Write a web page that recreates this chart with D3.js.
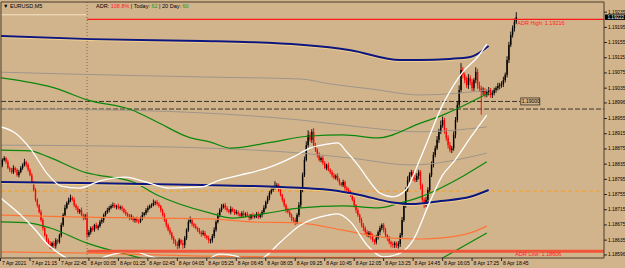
<!DOCTYPE html>
<html>
<head>
<meta charset="utf-8">
<script src="https://cdn.jsdelivr.net/npm/d3@7"></script>
<style>
  html, body { margin: 0; padding: 0; background: #d2b48c; }
  svg { display: block; font-family: "Liberation Sans", Arial, sans-serif; }
</style>
</head>
<body>
<svg id="chart" width="625" height="268"></svg>
<script>
// prices are in points above 1.18000 (e.g. 833 -> 1.18833), bars are M5 bar indexes

const firstOpen = 825;
const closePts = [
  833,846,851,841,825,820,814,825,820,806,814,825,833,841,833,820,
  806,788,767,741,727,709,688,667,648,635,625,620,
  627,620,635,630,
  648,675,701,720,733,741,746,741,
  727,720,709,714,701,693,699,
  648,
  656,667,662,675,667,672,
  683,688,701,709,714,720,725,
  727,722,725,720,722,
  717,709,704,699,693,696,688,691,685,683,693,
  701,706,714,720,725,727,733,735,730,
  725,714,701,688,675,662,654,641,633,625,620,635,627,
  622,641,662,683,688,677,
  672,667,662,656,651,654,646,641,635,
  635,646,662,683,701,714,722,727,
  720,714,709,717,712,706,709,704,699,706,701,704,699,693,701,696,699,704,696,701,709,
  720,735,746,759,767,772,778,780,
  767,754,741,727,714,709,701,693,688,683,
  701,727,767,806,846,885,
  912,899,920,885,
  872,859,846,851,838,825,833,820,814,806,799,804,793,785,780,788,772,767,762,754,
  741,727,714,701,688,675,667,656,648,654,
  646,635,630,641,656,667,675,662,648,641,630,625,622,627,620,625,
  648,688,727,767,793,806,814,799,
  793,804,814,780,741,
  727,741,767,
  806,833,859,877,899,920,938,951,
  925,904,885,872,877,
  912,951,991,1030,1083,
  1070,1056,1043,1062,1051,1035,
  1056,1078,1043,1035,1025,1030,
  1017,1025,1030,1017,1022,1030,1035,1041,
  1043,1046,1056,1070,1109,1149,1175,1193,1210,1222
];
const upWick = [
  6,4,5,3,6,4,5,7,3,4,6,5,4,8,3,5,4,6,3,5,
  4,3,6,5,4,3,5,7,4,6,5,3,4,6,5,8,4,6,9,5,
  6,4,5,3,7,4,5,8,6,4,5,3,6,4,5,7,4,3,6,5,
  4,7,5,3,6,4,5,3,6,4,5,7,3,4,6,5,4,8,3,5,
  6,4,5,9,4,6,5,3,4,6,5,4,7,3,5,4,6,5,3,8,
  5,4,6,9,5,4,6,3,5,4,7,5,3,6,4,5,7,4,6,5,
  8,4,6,5,3,7,4,5,6,4,3,5,7,4,6,5,3,6,4,5,
  6,4,5,7,4,6,5,8,6,12,5,4,6,3,5,4,6,5,4,3,
  6,5,8,6,7,9,10,12,8,7,10,6,5,7,4,6,5,3,6,4,
  5,6,4,7,5,3,6,4,5,6,4,5,7,3,5,4,6,5,4,6,
  5,4,6,3,8,5,6,4,5,6,3,5,4,6,5,4,7,6,8,9,
  7,10,8,6,5,9,7,6,5,4,6,8,7,6,9,8,7,10,8,12,
  9,6,5,7,8,6,9,8,10,12,18,8,6,9,10,7,8,6,12,8,
  9,6,7,5,6,8,5,7,6,5,8,6,7,9,6,10,8,9,7,8,
  13
];
const dnWick = [
  5,6,4,5,3,6,4,5,7,4,6,3,5,4,6,5,3,6,4,5,
  6,4,5,7,4,6,5,8,9,6,7,5,4,6,5,3,4,5,6,4,
  5,6,4,5,3,6,4,8,5,6,4,5,3,6,4,5,7,4,5,6,
  4,5,3,6,4,5,6,4,5,3,6,4,5,7,4,5,3,6,4,5,
  6,4,5,3,6,4,5,6,4,5,7,4,6,5,8,6,9,7,5,10,
  8,6,5,4,6,5,4,6,5,7,4,6,5,8,9,7,6,5,4,6,
  5,4,6,5,4,6,3,5,4,6,5,4,6,5,3,6,4,5,4,6,
  5,4,6,5,4,5,6,4,5,4,6,5,4,6,5,7,4,6,8,7,
  9,6,5,7,6,5,4,6,5,8,6,5,7,4,6,5,3,6,4,5,
  6,4,5,3,6,4,5,7,4,6,5,4,6,8,5,7,6,8,7,5,
  6,9,5,7,6,5,8,6,7,5,8,6,9,7,8,6,7,8,6,5,
  7,5,6,4,8,6,5,9,12,6,7,5,8,6,5,7,6,5,8,6,
  7,10,8,9,6,8,7,9,6,8,7,9,8,7,10,8,9,7,8,10,
  9,60,8,7,6,9,7,8,6,7,6,9,7,8,6,7,8,6,7,9,
  6
];

// indicator lines: [bar, price]
const navyTop = [[0,1172],[49,1164],[109,1159],[136,1156],[163,1149],[190,1135],[217,1109],[228,1109],[244,1112],[255,1117],[265,1146]];
const navyLow = [[0,788],[54,785],[109,780],[152,775],[179,767],[195,754],[212,735],[223,730],[239,738],[255,749],[265,767]];
const grayA = [[0,1077],[38,1072],[114,1064],[163,1059],[179,1046],[201,1033],[228,1017],[265,1030]];
const grayB = [[0,980],[54,978],[109,970],[163,951],[195,933],[228,920],[264,933]];
const grayC = [[0,885],[54,883],[114,877],[163,864],[190,851],[223,833],[264,864]];
const greenA = [[0,1062],[31,1033],[47,1004],[71,978],[85,946],[102,906],[114,893],[125,877],[145,891],[168,909],[186,912],[205,904],[228,943],[240,964],[265,1022]];
const greenB = [[0,872],[16,870],[26,854],[47,812],[53,806],[72,788],[85,754],[114,706],[126,693],[145,706],[163,720],[186,725],[205,720],[217,733],[228,749],[252,806],[264,841]];
const greenC1 = [[0,683],[16,680],[27,667],[47,627],[76,588],[90,570]];
const greenC2 = [[230,560],[240,588],[264,654]];
const orangeA = [[0,701],[38,696],[114,691],[136,683],[163,680],[185,662],[210,641],[228,638],[240,641],[255,654],[264,672]];
const orangeB = [[0,604],[49,601],[109,593],[174,590],[228,588]];
const bbUpper = [[0,933],[8,917],[16,877],[26,806],[33,777],[43,772],[54,791],[68,801],[79,788],[92,772],[109,775],[119,793],[130,806],[145,825],[159,854],[168,877],[178,888],[183,891],[188,867],[194,833],[199,799],[206,759],[213,749],[220,767],[228,851],[240,991],[246,1043],[251,1078],[259,1117],[264,1151]];
const bbLower = [[0,746],[11,701],[18,667],[26,622],[34,593],[46,575],[60,596],[71,606],[81,593],[95,575],[109,577],[119,598],[128,593],[136,572],[144,593],[152,630],[163,675],[178,701],[183,704],[190,683],[199,622],[208,591],[217,601],[224,635],[233,735],[240,806],[246,841],[255,904],[264,964]];

// levels
const daySplitBar = 47;
const prevDayLevel = 1228;
const adrHigh = 1216;
const adrLow = 606;
const roundLevel = 1000;
const pivotLevel = 980;
const orangeLevel = 764;

// axes
const priceTicks = [596,635,675,715,755,795,835,875,915,955,996,1035,1075,1115,1155,1195,1235];
const timeLabels = ["7 Apr 2021","7 Apr 21:15","7 Apr 22:45","8 Apr 00:05","8 Apr 01:25","8 Apr 02:45","8 Apr 04:05","8 Apr 05:25","8 Apr 06:45","8 Apr 08:05","8 Apr 09:25","8 Apr 10:45","8 Apr 12:05","8 Apr 13:25","8 Apr 14:45","8 Apr 16:05","8 Apr 17:25","8 Apr 18:45"];
const timeBars = [0,16,32,48,64,80,96,112,128,144,160,176,192,208,224,240,256,272];

class ChartView {
    constructor() {
        this.svg = d3.select('#chart');
        this.plot = { left: 1, top: 2, right: 604, bottom: 258 };
        this.x = d3.scaleLinear().domain([0, 328]).range([0.5, 604.7]);
        this.y = d3.scaleLinear().domain([588, 1261.7]).range([this.plot.bottom, this.plot.top]);
        this.fmt = v => (1.18 + v / 1e5).toFixed(5);
        this.draw();
    }

    draw() {
        const svg = this.svg, x = this.x, y = this.y, p = this.plot;

        svg.append('rect').attr('width', 625).attr('height', 268).attr('fill', '#d2b48c');
        svg.append('defs').append('clipPath').attr('id', 'clip')
            .append('rect')
            .attr('x', p.left).attr('y', p.top)
            .attr('width', p.right - p.left).attr('height', p.bottom - p.top);

        const g = svg.append('g').attr('clip-path', 'url(#clip)');

        // horizontal levels
        const hline = (x1, x2, v, color, w, dash) => g.append('line')
            .attr('x1', x1).attr('x2', x2).attr('y1', y(v)).attr('y2', y(v))
            .attr('stroke', color).attr('stroke-width', w)
            .attr('stroke-dasharray', dash || null);

        const lastX = x(closePts.length - 1);
        hline(p.left, lastX + 4, roundLevel, '#3c3428', 1, '5,2');
        hline(p.left, p.right, pivotLevel, '#3c3428', 1, '5,2');
        hline(p.left, p.right, orangeLevel, '#f5a020', 1, '4,3');
        hline(p.left, x(daySplitBar), prevDayLevel, '#f4e4c4', 1);

        g.append('line')
            .attr('x1', x(daySplitBar)).attr('x2', x(daySplitBar))
            .attr('y1', p.top).attr('y2', p.bottom)
            .attr('stroke', '#7d6c52').attr('stroke-dasharray', '1,2');

        // candles
        const bars = closePts.map((c, i) => {
            const o = i === 0 ? firstOpen : closePts[i - 1];
            return { i, o, c, h: Math.max(o, c) + upWick[i], l: Math.min(o, c) - dnWick[i] };
        });
        const colour = d => d.c >= d.o ? '#000000' : '#ff0000';

        const cg = g.append('g');
        cg.selectAll('line').data(bars).enter().append('line')
            .attr('x1', d => x(d.i)).attr('x2', d => x(d.i))
            .attr('y1', d => y(d.h)).attr('y2', d => y(d.l))
            .attr('stroke', colour).attr('stroke-width', 0.9);
        cg.selectAll('rect').data(bars).enter().append('rect')
            .attr('x', d => x(d.i) - 0.7).attr('width', 1.4)
            .attr('y', d => y(Math.max(d.o, d.c)))
            .attr('height', d => Math.max(0.8, Math.abs(y(d.o) - y(d.c))))
            .attr('fill', colour);

        // indicators
        const line = d3.line().x(d => x(d[0])).y(d => y(d[1])).curve(d3.curveMonotoneX);
        const path = (data, color, w, shift) => g.append('path').datum(data)
            .attr('d', line).attr('fill', 'none')
            .attr('stroke', color).attr('stroke-width', w)
            .attr('transform', shift ? `translate(0,${shift})` : null);

        [grayA, grayB, grayC].forEach(d => path(d, '#9e958b', 1));
        [greenA, greenB, greenC1, greenC2].forEach(d => path(d, '#0b870b', 1.2));
        [orangeA, orangeB].forEach(d => path(d, '#ff7436', 1.2));
        [navyTop, navyLow].forEach(d => {
            path(d, '#f2d08e', 1.6, 1.2);
            path(d, '#0c1680', 2);
        });
        [bbUpper, bbLower].forEach(d => path(d, '#ffffff', 1.3));

        // ADR lines
        hline(x(daySplitBar), p.right, adrHigh, '#ff1a1a', 1.2);
        hline(x(daySplitBar), p.right, adrLow, '#f0553a', 3);

        // frame
        svg.append('path')
            .attr('d', `M${p.left},${p.bottom}V${p.top}H${p.right}V${p.bottom}Z`)
            .attr('fill', 'none').attr('stroke', '#4a3d2c').attr('stroke-width', 1);

        // texts on plot
        const txt = (tx, ty, s, color, size) => svg.append('text')
            .attr('x', tx).attr('y', ty).attr('font-size', size || 5.5)
            .attr('fill', color || '#000').text(s);

        txt(lastX + 1, y(adrHigh) + 5.5, 'ADR High: ' + this.fmt(adrHigh), '#ff2020');
        txt(lastX - 1, y(adrLow) + 4.5, 'ADR Low: ' + this.fmt(adrLow), '#ff2020');

        svg.append('rect')
            .attr('x', lastX + 4.5).attr('y', y(roundLevel) - 3.5)
            .attr('width', 19).attr('height', 7)
            .attr('fill', '#d2b48c').attr('stroke', '#3c3428').attr('stroke-width', 0.8);
        txt(lastX + 5.5, y(roundLevel) + 2, this.fmt(roundLevel), '#000', 5);

        txt(3, 7.5, '\u25BC EURUSD,M5', '#000', 5.5);
        const head = svg.append('text').attr('x', 96).attr('y', 7.5).attr('font-size', 5.5);
        head.append('tspan').text('ADR: ');
        head.append('tspan').attr('fill', '#ff2020').text('108.8%');
        head.append('tspan').text('  |  Today: ');
        head.append('tspan').attr('fill', '#129612').text('62');
        head.append('tspan').text('  |   20 Day: ');
        head.append('tspan').attr('fill', '#129612').text('60');

        // price axis
        const ya = svg.append('g');
        priceTicks.forEach(v => {
            ya.append('line').attr('x1', p.right).attr('x2', p.right + 3)
                .attr('y1', y(v)).attr('y2', y(v)).attr('stroke', '#000').attr('stroke-width', 0.8);
            ya.append('text').attr('x', p.right + 4).attr('y', y(v) + 1.5)
                .attr('font-size', 4.8).attr('fill', '#000').text(this.fmt(v));
        });
        const lastClose = closePts[closePts.length - 1];
        ya.append('rect').attr('x', p.right + 1).attr('y', y(lastClose) - 2.6)
            .attr('width', 21).attr('height', 5.4).attr('fill', '#000');
        ya.append('text').attr('x', p.right + 3.5).attr('y', y(lastClose) + 1.6)
            .attr('font-size', 4.6).attr('fill', '#fff').text(this.fmt(lastClose));

        // time axis
        const xa = svg.append('g');
        timeBars.forEach((b, k) => {
            xa.append('line').attr('x1', x(b)).attr('x2', x(b))
                .attr('y1', p.bottom).attr('y2', p.bottom + 3)
                .attr('stroke', '#000').attr('stroke-width', 0.8);
            xa.append('text').attr('x', x(b) + 1.5).attr('y', 264.5)
                .attr('font-size', 5).attr('fill', '#000').text(timeLabels[k]);
        });
    }
}

document.addEventListener('DOMContentLoaded', () => {
    new ChartView();
});
</script>
</body>
</html>
